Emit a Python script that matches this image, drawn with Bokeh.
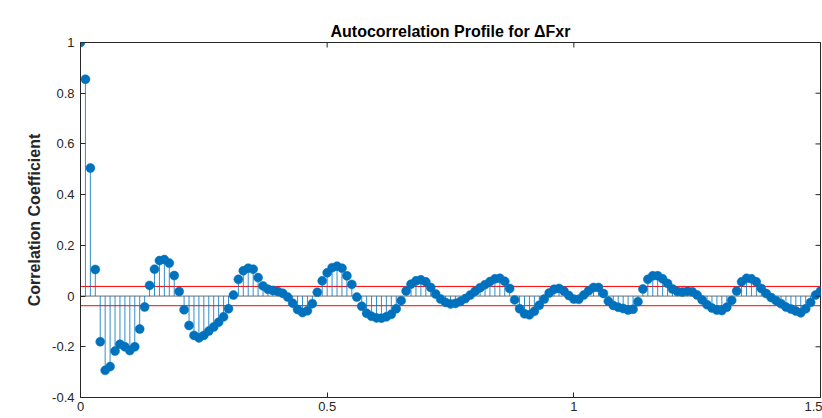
import math
from bokeh.plotting import figure
from bokeh.models import ColumnDataSource, FixedTicker, Range1d, Title
from bokeh.embed import file_html
from bokeh.resources import INLINE

# Autocorrelation coefficients at lags 0.00 .. 1.50 s (step 0.01 s)
acf = [
    1.0, 0.855, 0.505, 0.105, -0.18, -0.293, -0.278, -0.217, -0.19, -0.2,
    -0.215, -0.2, -0.13, -0.043, 0.042, 0.106, 0.14, 0.144, 0.13, 0.081,
    0.018, -0.054, -0.116, -0.155, -0.165, -0.155, -0.138, -0.122, -0.103, -0.082,
    -0.05, 0.004, 0.066, 0.1, 0.11, 0.106, 0.073, 0.04, 0.027, 0.022,
    0.018, 0.011, -0.004, -0.028, -0.053, -0.065, -0.058, -0.03, 0.015, 0.06,
    0.092, 0.112, 0.118, 0.11, 0.08, 0.046, -0.004, -0.04, -0.068, -0.08,
    -0.086, -0.087, -0.082, -0.072, -0.05, -0.018, 0.02, 0.047, 0.06, 0.064,
    0.056, 0.034, 0.008, -0.012, -0.025, -0.031, -0.029, -0.021, -0.01, 0.004,
    0.019, 0.033, 0.045, 0.057, 0.068, 0.07, 0.058, 0.03, -0.015, -0.05,
    -0.07, -0.074, -0.06, -0.036, -0.012, 0.012, 0.027, 0.03, 0.02, 0.002,
    -0.012, -0.013, 0.004, 0.021, 0.034, 0.034, 0.01, -0.02, -0.037, -0.044,
    -0.049, -0.055, -0.052, -0.022, 0.028, 0.066, 0.08, 0.08, 0.068, 0.05,
    0.028, 0.018, 0.016, 0.019, 0.017, 0.004, -0.015, -0.034, -0.047, -0.055,
    -0.057, -0.044, -0.017, 0.02, 0.056, 0.07, 0.068, 0.056, 0.03, 0.01,
    -0.006, -0.018, -0.03, -0.043, -0.051, -0.059, -0.066, -0.05, -0.025, 0.004,
    0.02,
]
lag_step = 0.01
lags = [round(i * lag_step, 2) for i in range(len(acf))]

conf_bound = 0.038  # significance band
x_ticks = [0, 0.5, 1, 1.5]
x_tick_labels = ["0", "0.5", "1", "1.5"]
y_ticks = [-0.4, -0.2, 0, 0.2, 0.4, 0.6, 0.8, 1]
y_tick_labels = ["-0.4", "-0.2", "0", "0.2", "0.4", "0.6", "0.8", "1"]

title_text = "Autocorrelation Profile for \u0394Fxr"
ylabel_text = "Correlation Coefficient"

BLUE = "#0072BD"
AXC = "#262626"
FONT = "Liberation Sans"

X_MIN, X_MAX = 0, 1.5
Y_MIN, Y_MAX = -0.4, 1.0

src = ColumnDataSource(dict(x=lags, y=acf, y0=[0] * len(acf)))

p = figure(width=822, height=418, output_backend="svg", toolbar_location=None,
           x_range=Range1d(X_MIN, X_MAX), y_range=Range1d(Y_MIN, Y_MAX),
           min_border_left=80, min_border_right=2, min_border_top=42,
           min_border_bottom=21)
p.background_fill_color = "white"
p.border_fill_color = "white"
p.outline_line_color = AXC
p.outline_line_width = 1
p.xgrid.visible = False
p.ygrid.visible = False

p.add_layout(Title(text=title_text, align="center", text_font=FONT,
                   text_font_size="16px", text_font_style="bold",
                   text_color="black", standoff=5), "above")

# stem baseline and confidence bounds
p.line([X_MIN, X_MAX], [0, 0], line_color="#6e6e6e", line_width=1)
p.line([X_MIN, X_MAX], [conf_bound, conf_bound], line_color="#ff0000", line_width=1)
p.line([X_MIN, X_MAX], [-conf_bound, -conf_bound], line_color="#ff0000", line_width=1)

# stems and filled markers
p.segment(x0="x", y0="y0", x1="x", y1="y", source=src, line_color=BLUE,
          line_width=1, line_alpha=0.8)
p.scatter(x="x", y="y", source=src, size=9, fill_color=BLUE, line_color=BLUE,
          line_width=0.5)

# inward tick marks on the top and right edges of the box
p.scatter(x=x_ticks, y=[Y_MAX] * len(x_ticks), marker="dash", size=10,
          angle=math.pi / 2, line_color=AXC, line_width=1)
p.scatter(x=[X_MAX] * len(y_ticks), y=y_ticks, marker="dash", size=10,
          line_color=AXC, line_width=1)

for ax in (p.xaxis[0], p.yaxis[0]):
    ax.axis_line_color = AXC
    ax.major_tick_line_color = AXC
    ax.major_tick_in = 5
    ax.major_tick_out = 0
    ax.minor_tick_line_color = None
    ax.major_label_text_font = FONT
    ax.major_label_text_font_size = "13px"
    ax.major_label_text_color = AXC
    ax.axis_label_text_font = FONT
    ax.axis_label_text_font_size = "16px"
    ax.axis_label_text_font_style = "bold"
    ax.axis_label_text_color = AXC

p.xaxis.ticker = FixedTicker(ticks=x_ticks)
p.xaxis.major_label_overrides = dict(zip(x_ticks, x_tick_labels))
p.yaxis.ticker = FixedTicker(ticks=y_ticks)
p.yaxis.major_label_overrides = dict(zip(y_ticks, y_tick_labels))
p.yaxis.axis_label = ylabel_text
p.yaxis.axis_label_standoff = 6
p.xaxis.major_label_standoff = 4
p.yaxis.major_label_standoff = 6

open("out.html", "w").write(file_html(p, INLINE))
